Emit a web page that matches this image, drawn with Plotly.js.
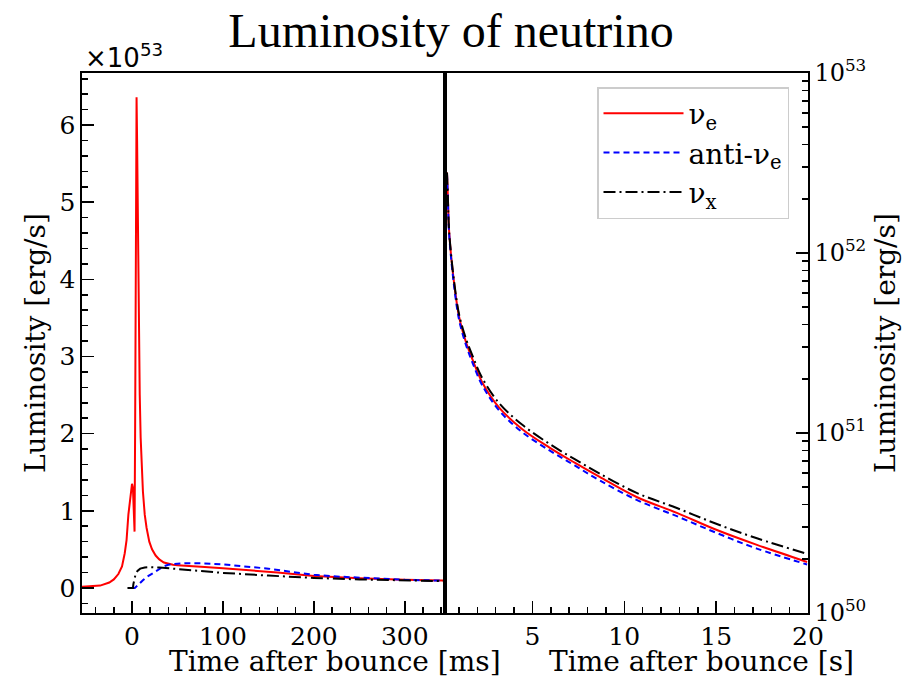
<!DOCTYPE html>
<html>
<head>
<meta charset="utf-8">
<script src="https://cdn.plot.ly/plotly-3.0.1.min.js"></script>
<style>html,body{margin:0;padding:0;background:#fff;}#chart{width:902px;height:680px;}</style>
</head>
<body>
<div id="chart"></div>
<script>
// ---- Left panel (time in ms, luminosity in units of 1e53 erg/s) ----
var tMsNuE = [-55, -45, -35, -25, -20, -15, -11, -8, -6, -4, -2, -1, 0, 1, 2, 2.8, 3.4, 4.0, 4.6, 5.0, 5.6, 6.5, 7.5, 8.5, 9.5, 10.5, 12, 14, 16, 19, 22, 26, 30, 35, 40, 45, 50, 60, 80, 100, 130, 160, 200, 250, 300, 342];
var lumNuE  = [0.015, 0.02, 0.03, 0.07, 0.11, 0.18, 0.28, 0.45, 0.62, 0.95, 1.2, 1.28, 1.35, 1.3, 1.0, 0.73, 2.0, 4.5, 6.1, 6.36, 5.8, 4.6, 3.4, 2.5, 1.95, 1.6, 1.25, 0.95, 0.78, 0.6, 0.5, 0.42, 0.37, 0.33, 0.31, 0.30, 0.295, 0.285, 0.27, 0.255, 0.23, 0.2, 0.155, 0.125, 0.105, 0.095];

var tMsAnti = [0, 3, 6, 9, 12, 16, 20, 25, 30, 35, 40, 50, 60, 70, 80, 100, 120, 150, 180, 200, 230, 260, 300, 342];
var lumAnti = [0, 0, 0.03, 0.07, 0.1, 0.14, 0.17, 0.21, 0.25, 0.28, 0.3, 0.315, 0.32, 0.32, 0.318, 0.305, 0.285, 0.25, 0.2, 0.17, 0.145, 0.125, 0.105, 0.095];

var tMsX = [-5, 1, 1.5, 2.5, 4, 6, 9, 14, 20, 30, 50, 75, 100, 150, 200, 250, 300, 342];
var lumX = [0, 0, 0.05, 0.12, 0.18, 0.22, 0.25, 0.265, 0.27, 0.265, 0.245, 0.22, 0.195, 0.16, 0.13, 0.11, 0.095, 0.088];

// ---- Right panel (time in s, luminosity in erg/s, log scale) ----
var tS = [0.35, 0.4, 0.47, 0.74, 1.02, 1.4, 1.73, 2.27, 3.2, 4.45, 5.93, 7.3, 8.66, 10.67, 12.86, 15.04, 17.22, 19.95];
var lumNuE_s = [2.8e52, 2.0e52, 1.3e52, 6.76e51, 4.37e51, 3.16e51, 2.57e51, 1.91e51, 1.38e51, 1.05e51, 8.3e50, 6.84e50, 5.7e50, 4.41e50, 3.6e50, 2.89e50, 2.39e50, 1.92e50];
var lumAnti_s = [2.75e52, 1.95e52, 1.26e52, 6.5e51, 4.2e51, 3.05e51, 2.47e51, 1.84e51, 1.33e51, 1.01e51, 8.0e50, 6.6e50, 5.45e50, 4.25e50, 3.45e50, 2.78e50, 2.28e50, 1.86e50];
var lumX_s = [2.8e52, 2.0e52, 1.3e52, 6.9e51, 4.5e51, 3.3e51, 2.7e51, 2.02e51, 1.46e51, 1.11e51, 8.7e50, 7.15e50, 5.95e50, 4.65e50, 3.83e50, 3.12e50, 2.6e50, 2.13e50];

var seriesNames = ['ν<sub>e</sub>', 'anti-ν<sub>e</sub>', 'ν<sub>x</sub>'];
var leftTicks = [0, 1, 2, 3, 4, 5, 6];
var rightTickVals = [1e50, 1e51, 1e52, 1e53];
var rightTickText = ['10<sup>50</sup>', '10<sup>51</sup>', '10<sup>52</sup>', '10<sup>53</sup>'];
var rightXTicks = [5, 10, 15, 20];
var leftXTicks = [0, 100, 200, 300];

var minorLog = [];
for (var d = 50; d < 53; d++) { for (var m = 2; m <= 9; m++) { minorLog.push(m * Math.pow(10, d)); } }

var serif = 'DejaVu Serif, serif';
var lineRed = {color: '#ff0000', width: 2};
var lineBlue = {color: '#0000ff', width: 2, dash: '6px,4px'};
var lineBlack = {color: '#000000', width: 2, dash: '12px,4px,2px,4px'};

var traces = [
  {x: tMsNuE, y: lumNuE, xaxis: 'x', yaxis: 'y', mode: 'lines', line: lineRed, name: seriesNames[0], legendgroup: 'a'},
  {x: tMsAnti, y: lumAnti, xaxis: 'x', yaxis: 'y', mode: 'lines', line: lineBlue, name: seriesNames[1], legendgroup: 'b'},
  {x: tMsX, y: lumX, xaxis: 'x', yaxis: 'y', mode: 'lines', line: lineBlack, name: seriesNames[2], legendgroup: 'c'},
  {x: tS, y: lumNuE_s, xaxis: 'x2', yaxis: 'y2', mode: 'lines', line: Object.assign({shape: 'spline'}, lineRed), name: seriesNames[0], legendgroup: 'a', showlegend: false},
  {x: tS, y: lumAnti_s, xaxis: 'x2', yaxis: 'y2', mode: 'lines', line: Object.assign({shape: 'spline'}, lineBlue), name: seriesNames[1], legendgroup: 'b', showlegend: false},
  {x: tS, y: lumX_s, xaxis: 'x2', yaxis: 'y2', mode: 'lines', line: Object.assign({shape: 'spline'}, lineBlack), name: seriesNames[2], legendgroup: 'c', showlegend: false}
];

var L = 82, R = 808, T = 73, B = 613;
var W = R - L, H = B - T;
function px(x) { return (x - L) / W; }
function py(y) { return (B - y) / H; }

var axisCommon = {
  showline: true, linecolor: '#000', linewidth: 1.6, mirror: true,
  ticks: 'inside', ticklen: 12, tickwidth: 1.5, tickcolor: '#000',
  showgrid: false, zeroline: false,
  tickfont: {family: serif, size: 25, color: '#000'}
};

var layout = {
  width: 902, height: 680,
  margin: {l: L, r: 902 - R, t: T, b: 680 - B},
  paper_bgcolor: '#fff', plot_bgcolor: '#fff',
  title: {text: 'Luminosity of neutrino', font: {family: 'Liberation Serif, Times New Roman, serif', size: 48, color: '#000'}, x: 0.5, xanchor: 'center', y: 0.955, yanchor: 'middle', xref: 'container'},
  showlegend: true,
  legend: {x: px(597), y: py(87), xanchor: 'left', yanchor: 'top', bgcolor: '#fff', bordercolor: '#cccccc', borderwidth: 1.5,
           font: {family: serif, size: 28, color: '#000'}, itemwidth: 80, tracegroupgap: 0},
  xaxis: Object.assign({}, axisCommon, {domain: [0, px(443)], range: [-55, 342], tickmode: 'array', tickvals: leftXTicks,
           minor: {dtick: 20, tick0: 0, ticks: 'inside', ticklen: 6, tickwidth: 1.5, tickcolor: '#000'}, anchor: 'y'}),
  yaxis: Object.assign({}, axisCommon, {domain: [0, 1], range: [-0.325, 6.675], tickmode: 'array', tickvals: leftTicks,
           minor: {dtick: 0.2, tick0: 0, ticks: 'inside', ticklen: 6, tickwidth: 1.5, tickcolor: '#000'}, anchor: 'x'}),
  xaxis2: Object.assign({}, axisCommon, {domain: [px(447), 1], range: [0.35, 20], tickmode: 'array', tickvals: rightXTicks,
           minor: {dtick: 1, tick0: 0, ticks: 'inside', ticklen: 6, tickwidth: 1.5, tickcolor: '#000'}, anchor: 'y2'}),
  yaxis2: Object.assign({}, axisCommon, {domain: [0, 1], type: 'log', range: [50, 53], side: 'right', anchor: 'x2',
           tickmode: 'array', tickvals: rightTickVals, ticktext: rightTickText, tickfont: {family: serif, size: 24, color: '#000'},
           minor: {tickmode: 'array', tickvals: minorLog, ticks: 'inside', ticklen: 6, tickwidth: 1.5, tickcolor: '#000'}}),
  annotations: [
    {text: 'Time after bounce [ms]', xref: 'paper', yref: 'paper', x: px(335), y: py(679), xanchor: 'center', yanchor: 'bottom', showarrow: false, borderpad: 0, font: {family: serif, size: 28, color: '#000'}},
    {text: 'Time after bounce [s]', xref: 'paper', yref: 'paper', x: px(701), y: py(679), xanchor: 'center', yanchor: 'bottom', showarrow: false, borderpad: 0, font: {family: serif, size: 28, color: '#000'}},
    {text: 'Luminosity [erg/s]', xref: 'paper', yref: 'paper', x: px(35), y: py(343), xanchor: 'center', yanchor: 'middle', textangle: -90, showarrow: false, font: {family: serif, size: 28, color: '#000'}},
    {text: 'Luminosity [erg/s]', xref: 'paper', yref: 'paper', x: px(885), y: py(343), xanchor: 'center', yanchor: 'middle', textangle: -90, showarrow: false, font: {family: serif, size: 28, color: '#000'}},
    {text: '×10<sup>53</sup>', xref: 'paper', yref: 'paper', x: px(83), y: py(56), xanchor: 'left', yanchor: 'middle', showarrow: false, font: {family: 'DejaVu Sans, sans-serif', size: 26, color: '#000'}}
  ]
};

Plotly.newPlot('chart', traces, layout, {displayModeBar: false, staticPlot: true});
</script>
</body>
</html>
